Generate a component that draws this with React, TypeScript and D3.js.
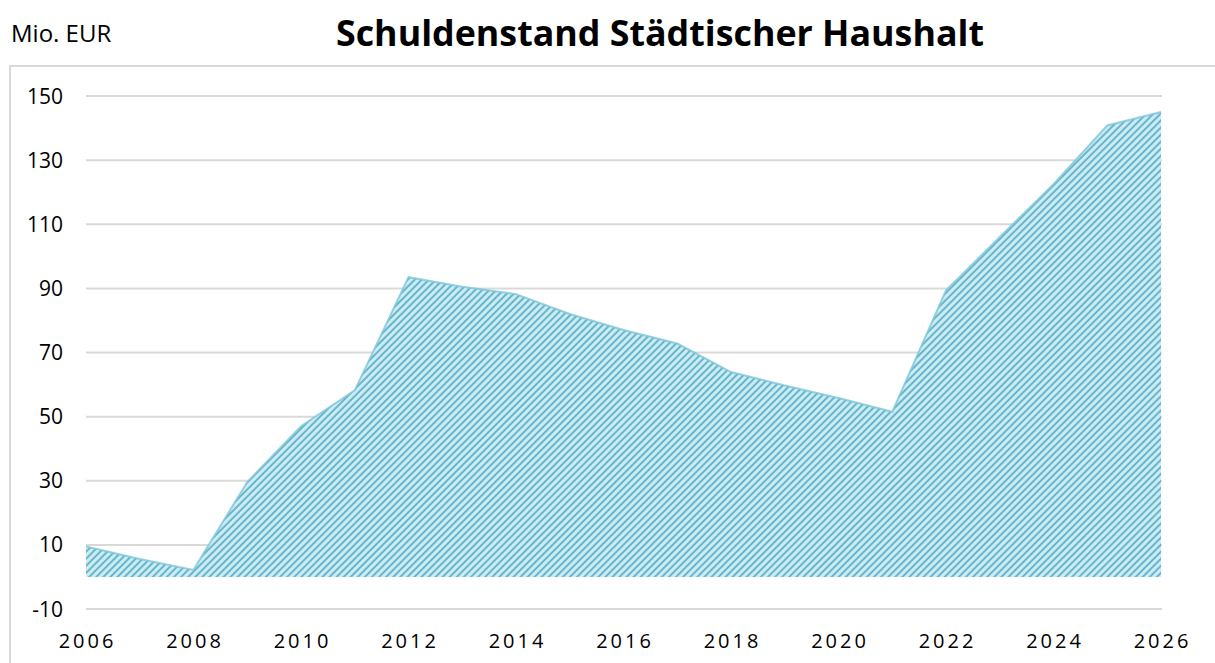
import React from "react";
import * as d3 from "d3";

const years = [2006, 2007, 2008, 2009, 2010, 2011, 2012, 2013, 2014, 2015, 2016, 2017, 2018, 2019, 2020, 2021, 2022, 2023, 2024, 2025, 2026];
const debt = [9.5, 5.6, 2.2, 29.6, 47, 58.2, 93.5, 90.5, 88.2, 82, 77, 72.8, 63.9, 59.7, 55.8, 51.5, 89.4, 106, 122.5, 140.8, 145];
const yTicks = [-10, 10, 30, 50, 70, 90, 110, 130, 150];
const xTicks = [2006, 2008, 2010, 2012, 2014, 2016, 2018, 2020, 2022, 2024, 2026];
const title = "Schuldenstand Städtischer Haushalt";
const unitLabel = "Mio. EUR";

const W = 1215;
const H = 663;

export default function App() {
  const x = d3.scaleLinear().domain([2006, 2026]).range([86, 1161]);
  const y = d3.scaleLinear().domain([-10, 150]).range([609, 96]);
  const pts = years.map((yr, i) => ({ yr, v: debt[i] }));
  const area = d3
    .area<{ yr: number; v: number }>()
    .x((d) => x(d.yr))
    .y0(y(0))
    .y1((d) => y(d.v));
  const line = d3
    .line<{ yr: number; v: number }>()
    .x((d) => x(d.yr))
    .y((d) => y(d.v));
  const font = "'Open Sans', 'Noto Sans', sans-serif";
  return (
    <svg width={W} height={H} style={{ position: "absolute", left: 0, top: 0, background: "#fff" }}>
      <defs>
        <pattern id="hatch" patternUnits="userSpaceOnUse" width="5" height="5" patternTransform="rotate(45)">
          <rect width="5" height="5" fill="#cdebf3" />
          <rect x="0" y="0" width="2" height="5" fill="#66b6cc" />
        </pattern>
      </defs>
      <rect x={10} y={66} width={1230} height={640} fill="none" stroke="#d9d9d9" strokeWidth={2} />
      {yTicks.map((t) => (
        <g key={t}>
          <line x1={86} x2={1162} y1={y(t)} y2={y(t)} stroke="#d9d9d9" strokeWidth={2} />
          <text x={63} y={y(t)} dy="0.36em" textAnchor="end" fontFamily={font} fontSize={21} fill="#000">
            {t}
          </text>
        </g>
      ))}
      <path d={area(pts) || ""} fill="url(#hatch)" />
      <path d={line(pts) || ""} fill="none" stroke="#7cc6da" strokeWidth={2} strokeOpacity={0.8} />
      {xTicks.map((t) => (
        <text key={t} x={x(t) + 1.5} y={648} textAnchor="middle" fontFamily={font} fontSize={20} letterSpacing={3} fill="#000">
          {t}
        </text>
      ))}
      <text x={11} y={42} fontFamily={font} fontSize={24} fill="#000">
        {unitLabel}
      </text>
      <text x={660} y={46} textAnchor="middle" fontFamily={font} fontWeight="bold" fontSize={35} textLength={648} lengthAdjust="spacingAndGlyphs" fill="#000">
        {title}
      </text>
    </svg>
  );
}
